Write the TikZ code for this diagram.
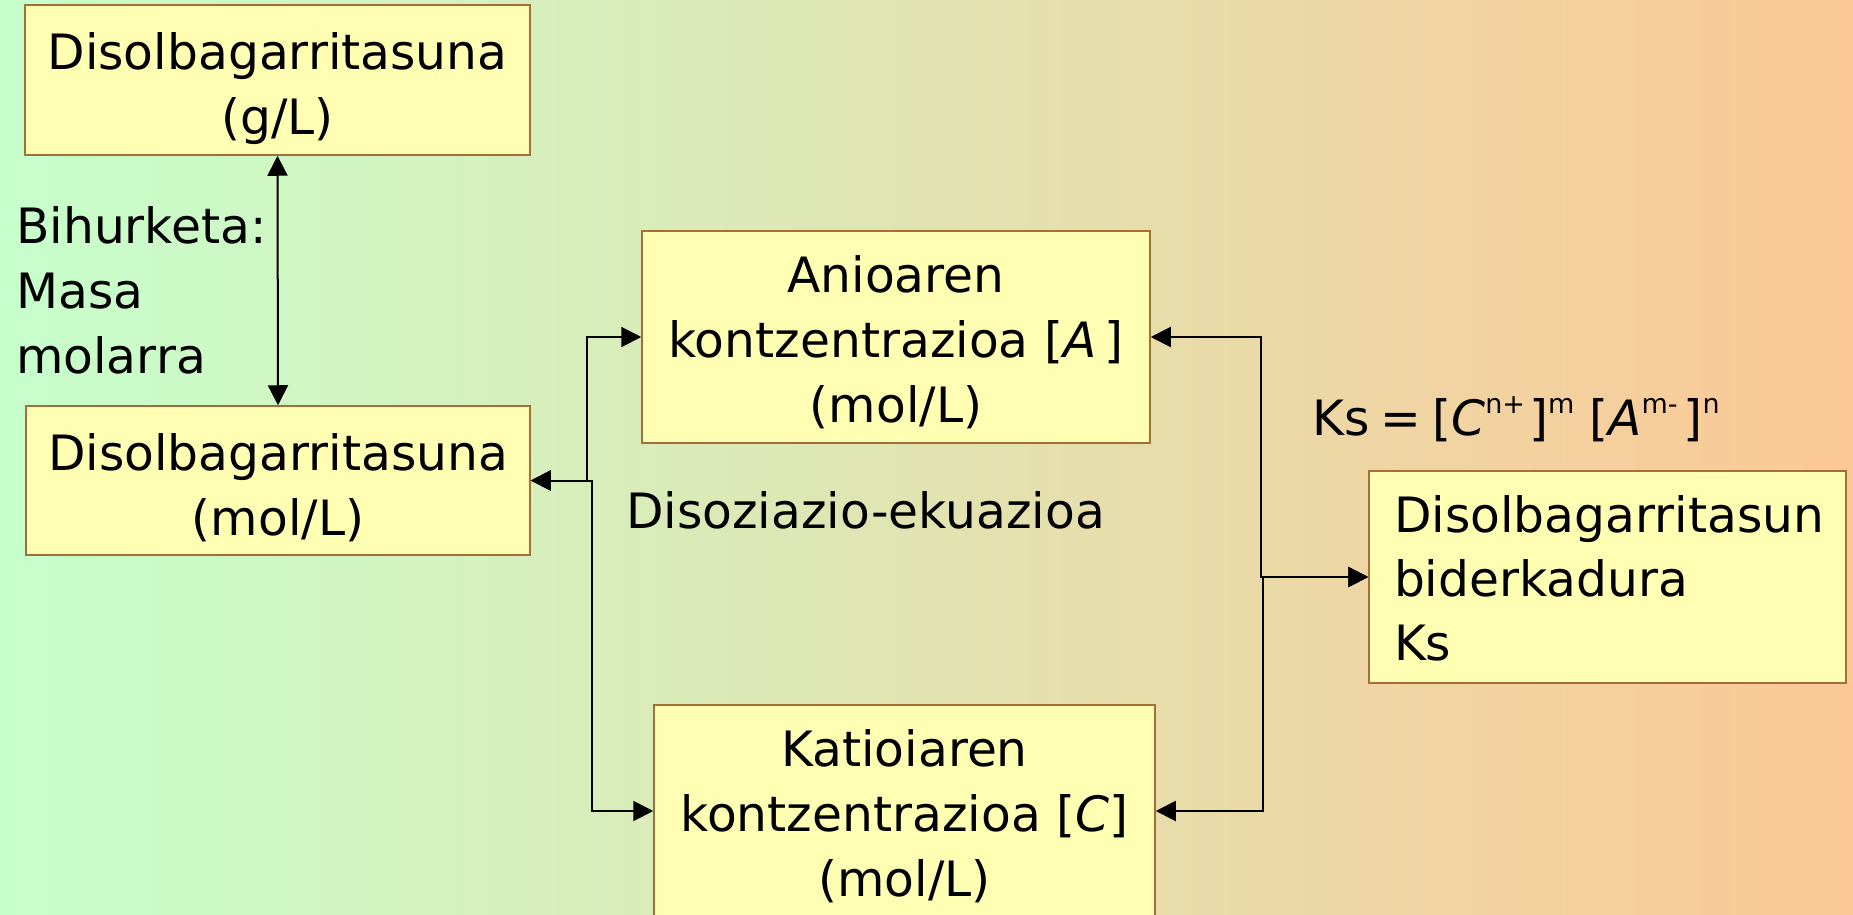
\documentclass[tikz,border=0pt]{standalone}
\usepackage{fontspec}
\setmainfont{DejaVu Sans}
\usetikzlibrary{arrows.meta}

\definecolor{bgleft}{RGB}{198,255,204}
\definecolor{bgright}{RGB}{252,200,150}
\definecolor{boxfill}{RGB}{255,255,180}
\definecolor{boxline}{RGB}{165,110,55}

% raised small index for the solubility-product formula
\newcommand{\upidx}[1]{\raisebox{22pt}{\fontsize{27}{27}\selectfont #1}}
% struts that fix the first-line height and last-line depth of a box text
\newcommand{\topstrut}[1]{\rule{0pt}{#1}}
\newcommand{\botstrut}[1]{\rule[-#1]{0pt}{#1}}

\tikzset{
  bigtext/.style={font=\fontsize{48.7}{65}\selectfont},
  conceptbox/.style={bigtext, draw=boxline, fill=boxfill, line width=1.5pt,
    inner sep=0pt, align=center},
  link/.style={line width=2pt, draw=black, {Triangle[length=20pt,width=20pt]}-{Triangle[length=20pt,width=20pt]}},
}

\begin{document}
\begin{tikzpicture}[x=1pt,y=-1pt]
  % background
  \useasboundingbox (0,0) rectangle (1853,915);
  \fill[left color=bgleft, right color=bgright] (0,0) rectangle (1853,915);

  % solubility boxes on the left
  \node[conceptbox, minimum width=505pt, minimum height=150pt] (gl) at (277.5,80)
    {\topstrut{55pt}Disolbagarritasuna\\(g/L)\botstrut{10pt}};
  \node[conceptbox, minimum width=504pt, minimum height=149pt] (moll) at (278,480.5)
    {\topstrut{55pt}Disolbagarritasuna\\(mol/L)\botstrut{10pt}};

  % ion concentration boxes
  \node[conceptbox, minimum width=508pt, minimum height=212pt] (anion) at (896,337)
    {\topstrut{50pt}Anioaren\\kontzentrazioa [\textit{A}\,]\\(mol/L)\botstrut{10pt}};
  \node[conceptbox, minimum width=501pt, minimum height=212pt] (cation) at (904.5,811)
    {\topstrut{50pt}Katioiaren\\kontzentrazioa [\textit{C}]\\(mol/L)\botstrut{10pt}};

  % solubility product box
  \node[conceptbox, font=\fontsize{48.7}{64}\selectfont, align=left, text width=427pt,
        inner xsep=25pt, minimum height=212pt] (ksbox) at (1607.5,577)
    {\topstrut{49pt}Disolbagarritasun\\biderkadura\\Ks\botstrut{11pt}};

  % free labels
  \node[bigtext, align=left, inner sep=0pt, anchor=north west] (conv) at (16,198)
    {\topstrut{45pt}Bihurketa:\\Masa\\molarra};
  \node[bigtext, inner sep=0pt, anchor=base west] (dissoc) at (626,528)
    {Disoziazio-ekuazioa};
  \node[bigtext, inner sep=0pt, anchor=base west] (formula) at (1312,435)
    {Ks\hspace{11pt}=\hspace{11pt}[\textit{C}\upidx{n+}\hspace{4pt}]\upidx{m}\hspace{15pt}[\textit{A}\upidx{m-}\hspace{6pt}]\upidx{n}};

  % connectors
  \draw[link] (gl.south) -- (moll.north);
  \draw[link] (moll.east) -- ++(56,0) |- (anion.west);
  \draw[link] (moll.east) -- ++(61,0) |- (cation.west);
  \draw[link] (anion.east) -- ++(110,0) |- (ksbox.west);
  \draw[link] (cation.east) -- ++(107,0) |- (ksbox.west);
\end{tikzpicture}
\end{document}
